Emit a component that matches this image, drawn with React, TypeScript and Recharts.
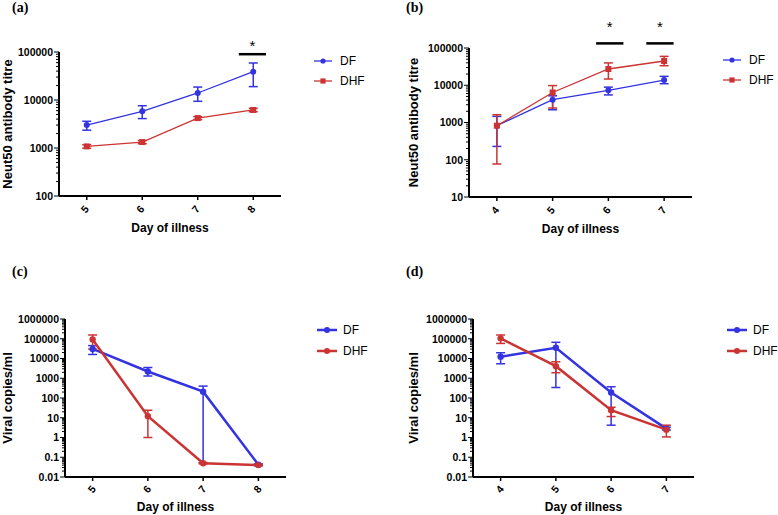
import React from 'react';
import { LineChart, Line, XAxis, YAxis, ErrorBar, ReferenceLine, Legend } from 'recharts';

const BLUE = '#3333e0';
const RED = '#cc3333';
const FONT = '"Liberation Sans", Arial, Helvetica, sans-serif';

// ---------- Panel (a): Neut50 titre, days 5-8 ----------
const daysA = [5, 6, 7, 8];
const dfA = [3000, 5800, 14000, 39000];
const dfALo = [2350, 4100, 9400, 19000];
const dfAHi = [3600, 7600, 18600, 59000];
const dhfA = [1080, 1330, 4200, 6200];
const dhfALo = [990, 1230, 3900, 5700];
const dhfAHi = [1170, 1430, 4500, 6700];
const yMajorA = [100, 1000, 10000, 100000];
const sigA = [{ x1: 7.74, x2: 8.23, y: 90000 }];

// ---------- Panel (b): Neut50 titre, days 4-7 ----------
const daysB = [4, 5, 6, 7];
const dfB = [820, 4100, 7300, 13800];
const dfBLo = [228, 2200, 5500, 11000];
const dfBHi = [1460, 5200, 8900, 17300];
const dhfB = [820, 6400, 27300, 44800];
const dhfBLo = [77, 2450, 14700, 33500];
const dhfBHi = [1620, 9800, 39800, 59600];
const yMajorB = [10, 100, 1000, 10000, 100000];
const sigB = [
  { x1: 5.78, x2: 6.27, y: 133000 },
  { x1: 6.68, x2: 7.17, y: 133000 },
];

// ---------- Panel (c): viral copies, days 5-8 ----------
const daysC = [5, 6, 7, 8];
const dfC = [30500, 2200, 210, 0.042];
const dfCLo = [16000, 1300, 0.052, 0.038];
const dfCHi = [45000, 3500, 400, 0.046];
const dhfC = [91000, 12, 0.05, 0.04];
const dhfCLo = [30000, 1, 0.046, 0.037];
const dhfCHi = [155000, 24, 0.054, 0.043];
const yMajorC = [0.01, 0.1, 1, 10, 100, 1000, 10000, 100000, 1000000];

// ---------- Panel (d): viral copies, days 4-7 ----------
const daysD = [4, 5, 6, 7];
const dfD = [12300, 35000, 190, 2.8];
const dfDLo = [5400, 340, 4.2, 2.4];
const dfDHi = [19500, 66000, 370, 3.3];
const dhfD = [105000, 4100, 24, 2.5];
const dhfDLo = [58000, 1900, 11.5, 1.07];
const dhfDHi = [155000, 6800, 34, 4.2];
const yMajorD = [0.01, 0.1, 1, 10, 100, 1000, 10000, 100000, 1000000];

type Row = { day: number; df: number; dfErr: number[]; dhf: number; dhfErr: number[] };

function buildRows(days: number[], df: number[], dfLo: number[], dfHi: number[], dhf: number[], dhfLo: number[], dhfHi: number[]): Row[] {
  return days.map((d, i) => ({
    day: d,
    df: df[i],
    dfErr: [df[i] - dfLo[i], dfHi[i] - df[i]],
    dhf: dhf[i],
    dhfErr: [dhf[i] - dhfLo[i], dhfHi[i] - dhf[i]],
  }));
}

function withMinor(majors: number[]): number[] {
  const out: number[] = [];
  majors.forEach((m, i) => {
    out.push(m);
    if (i < majors.length - 1) {
      for (let k = 2; k <= 9; k++) out.push(parseFloat((m * k).toPrecision(6)));
    }
  });
  return out;
}

const isMajor = (v: number) => {
  const lg = Math.log10(v);
  return Math.abs(lg - Math.round(lg)) < 1e-6;
};

const fmt = (v: number) => (v < 1 ? String(parseFloat(v.toPrecision(3))) : String(Math.round(v)));

const YTick = (props: any) => {
  const { x, y, payload } = props;
  const v = payload.value;
  const major = isMajor(v);
  return (
    <g>
      <line x1={x - (major ? 5 : 3)} x2={x} y1={y} y2={y} stroke="#000" strokeWidth={1} />
      {major && (
        <text x={x - 6} y={y} dy="0.36em" textAnchor="end" fontFamily={FONT} fontWeight="bold" fontSize={10.5} fill="#000">
          {fmt(v)}
        </text>
      )}
    </g>
  );
};

const makeXTick = (dx: number, dy: number) => (props: any) => {
  const { x, y, payload } = props;
  return (
    <g>
      <line x1={x} x2={x} y1={y} y2={y + 4} stroke="#000" strokeWidth={1.5} />
      <g transform={`translate(${x + dx},${y + dy})`}>
        <g transform="rotate(-50)">
          <text x={0} y={0} textAnchor="middle" dy="0.36em" fontFamily={FONT} fontWeight="bold" fontSize={10.5} fill="#000">
            {payload.value}
          </text>
        </g>
      </g>
    </g>
  );
};

const circleDot = (color: string, r: number) => (props: any) => {
  const { cx, cy, index } = props;
  return <circle key={`c-${index}`} cx={cx} cy={cy} r={r} fill={color} stroke="none" />;
};
const squareDot = (color: string, s: number) => (props: any) => {
  const { cx, cy, index } = props;
  return <rect key={`s-${index}`} x={cx - s / 2} y={cy - s / 2} width={s} height={s} fill={color} stroke="none" />;
};

const makeLegend = (dhfSquare: boolean, lw: number, lineLen: number, gap: number, rowH: number, r: number) => () => (
  <div style={{ fontFamily: FONT, fontSize: 12, color: '#000' }}>
    {[
      { name: 'DF', color: BLUE, sq: false },
      { name: 'DHF', color: RED, sq: dhfSquare },
    ].map((it) => (
      <div key={it.name} style={{ display: 'flex', alignItems: 'center', height: rowH }}>
        <svg width={lineLen} height={10} style={{ display: 'block' }}>
          <line x1={0} x2={lineLen} y1={5} y2={5} stroke={it.color} strokeWidth={lw} />
          {it.sq ? (
            <rect x={lineLen / 2 - 2.6} y={2.4} width={5.2} height={5.2} fill={it.color} />
          ) : (
            <circle cx={lineLen / 2} cy={5} r={r} fill={it.color} />
          )}
        </svg>
        <span style={{ marginLeft: gap }}>{it.name}</span>
      </div>
    ))}
  </div>
);

type PanelProps = {
  left: number;
  top: number;
  width: number;
  height: number;
  plotLeft: number;
  plotRight: number;
  plotTop: number;
  plotBottom: number;
  xDomain: number[];
  xTicks: number[];
  yMajors: number[];
  rows: Row[];
  yLabel: string;
  yLabelX: number;
  xLabelOffset: number;
  lineWidth: number;
  dhfSquare: boolean;
  sig: { x1: number; x2: number; y: number }[];
  sigOffset: number;
  legendLeft: number;
  legendTop: number;
  legend: () => React.ReactElement;
  xTickDx: number;
  xTickDy: number;
  title: string;
  titleLeft: number;
  titleTop: number;
};

const Panel = (p: PanelProps) => {
  const xAxisH = p.height - p.plotBottom > 40 ? 40 : 30;
  const yDomain = [p.yMajors[0], p.yMajors[p.yMajors.length - 1]];
  return (
    <div style={{ position: 'absolute', left: p.left, top: p.top, width: p.width, height: p.height }}>
      <div
        style={{
          position: 'absolute',
          left: p.titleLeft,
          top: p.titleTop,
          fontFamily: '"Liberation Serif", "Times New Roman", serif',
          fontWeight: 'bold',
          fontSize: 14,
          lineHeight: '14px',
          zIndex: 2,
        }}
      >
        {p.title}
      </div>
      <LineChart
        width={p.width}
        height={p.height}
        data={p.rows}
        margin={{ left: 0, top: p.plotTop, right: p.width - p.plotRight, bottom: p.height - p.plotBottom - xAxisH }}
      >
        <XAxis
          dataKey="day"
          type="number"
          domain={p.xDomain}
          ticks={p.xTicks}
          interval={0}
          height={xAxisH}
          axisLine={{ stroke: '#000', strokeWidth: 2 }}
          tickLine={false}
          tickSize={0}
          tickMargin={0}
          tick={makeXTick(p.xTickDx, p.xTickDy)}
          allowDataOverflow
          label={{
            value: 'Day of illness',
            position: 'insideTop',
            offset: p.xLabelOffset,
            fontFamily: FONT,
            fontWeight: 'bold',
            fontSize: 12,
            fill: '#000',
          }}
        />
        <YAxis
          type="number"
          scale="log"
          domain={yDomain}
          ticks={withMinor(p.yMajors)}
          interval={0}
          width={p.plotLeft}
          axisLine={{ stroke: '#000', strokeWidth: 2 }}
          tickLine={false}
          tickSize={0}
          tickMargin={0}
          tick={YTick}
          allowDataOverflow
          label={{
            value: p.yLabel,
            angle: -90,
            position: 'insideLeft',
            offset: p.yLabelX,
            fontFamily: FONT,
            fontWeight: 'bold',
            fontSize: 13,
            fill: '#000',
            style: { textAnchor: 'middle' },
          }}
        />
        <Legend
          layout="vertical"
          align="center"
          verticalAlign="middle"
          content={p.legend}
          wrapperStyle={{ left: p.legendLeft, top: p.legendTop, width: 'auto' }}
        />
        {p.sig.map((s, i) => (
          <ReferenceLine
            key={`sig-${i}`}
            segment={[
              { x: s.x1, y: s.y },
              { x: s.x2, y: s.y },
            ]}
            stroke="#000"
            strokeWidth={2.5}
            ifOverflow="visible"
            label={{ value: '*', position: 'top', offset: p.sigOffset, fontFamily: FONT, fontSize: 15, fill: '#000' }}
          />
        ))}
        <Line
          type="linear"
          dataKey="df"
          name="DF"
          stroke={BLUE}
          strokeWidth={p.lineWidth}
          dot={circleDot(BLUE, p.lineWidth > 2 ? 3.2 : 3)}
          activeDot={false}
          isAnimationActive={false}
        >
          <ErrorBar dataKey="dfErr" direction="y" width={4.5} stroke={BLUE} strokeWidth={1.5} />
        </Line>
        <Line
          type="linear"
          dataKey="dhf"
          name="DHF"
          stroke={RED}
          strokeWidth={p.lineWidth}
          dot={p.dhfSquare ? squareDot(RED, 6) : circleDot(RED, 3.2)}
          activeDot={false}
          isAnimationActive={false}
        >
          <ErrorBar dataKey="dhfErr" direction="y" width={4.5} stroke={RED} strokeWidth={1.5} />
        </Line>
      </LineChart>
    </div>
  );
};

export default function App() {
  return (
    <div style={{ position: 'absolute', left: 0, top: 0, width: 778, height: 515, background: '#fff', overflow: 'hidden' }}>
      <Panel
        left={0}
        top={0}
        width={389}
        height={245}
        plotLeft={59}
        plotRight={281}
        plotTop={52}
        plotBottom={196}
        xDomain={[4.5, 8.5]}
        xTicks={daysA}
        yMajors={yMajorA}
        rows={buildRows(daysA, dfA, dfALo, dfAHi, dhfA, dhfALo, dhfAHi)}
        yLabel="Neut50 antibody titre"
        yLabelX={7}
        xLabelOffset={27}
        lineWidth={1.3}
        dhfSquare={true}
        sig={sigA}
        sigOffset={3}
        legendLeft={314}
        legendTop={51}
        legend={makeLegend(true, 1.3, 18, 8, 20, 2.6)}
        xTickDx={-2}
        xTickDy={13}
        title="(a)"
        titleLeft={12}
        titleTop={1}
      />
      <Panel
        left={389}
        top={0}
        width={389}
        height={245}
        plotLeft={80}
        plotRight={303}
        plotTop={48}
        plotBottom={197}
        xDomain={[3.5, 7.5]}
        xTicks={daysB}
        yMajors={yMajorB}
        rows={buildRows(daysB, dfB, dfBLo, dfBHi, dhfB, dhfBLo, dhfBHi)}
        yLabel="Neut50 antibody titre"
        yLabelX={24}
        xLabelOffset={27}
        lineWidth={1.3}
        dhfSquare={true}
        sig={sigB}
        sigOffset={11}
        legendLeft={334}
        legendTop={50}
        legend={makeLegend(true, 1.3, 18, 8, 20, 2.6)}
        xTickDx={-2}
        xTickDy={13}
        title="(b)"
        titleLeft={17}
        titleTop={1}
      />
      <Panel
        left={0}
        top={250}
        width={389}
        height={265}
        plotLeft={65}
        plotRight={286}
        plotTop={69}
        plotBottom={227}
        xDomain={[4.5, 8.5]}
        xTicks={daysC}
        yMajors={yMajorC}
        rows={buildRows(daysC, dfC, dfCLo, dfCHi, dhfC, dhfCLo, dhfCHi)}
        yLabel="Viral copies/ml"
        yLabelX={7}
        xLabelOffset={25}
        lineWidth={2.5}
        dhfSquare={false}
        sig={[]}
        sigOffset={0}
        legendLeft={317}
        legendTop={69}
        legend={makeLegend(false, 2.5, 20, 6, 21, 3)}
        xTickDx={-1}
        xTickDy={12}
        title="(c)"
        titleLeft={12}
        titleTop={15}
      />
      <Panel
        left={389}
        top={250}
        width={389}
        height={265}
        plotLeft={84}
        plotRight={305}
        plotTop={69}
        plotBottom={227}
        xDomain={[3.5, 7.5]}
        xTicks={daysD}
        yMajors={yMajorD}
        rows={buildRows(daysD, dfD, dfDLo, dfDHi, dhfD, dhfDLo, dhfDHi)}
        yLabel="Viral copies/ml"
        yLabelX={24}
        xLabelOffset={25}
        lineWidth={2.5}
        dhfSquare={false}
        sig={[]}
        sigOffset={0}
        legendLeft={338}
        legendTop={69}
        legend={makeLegend(false, 2.5, 20, 6, 21, 3)}
        xTickDx={-1}
        xTickDy={12}
        title="(d)"
        titleLeft={17}
        titleTop={15}
      />
    </div>
  );
}
